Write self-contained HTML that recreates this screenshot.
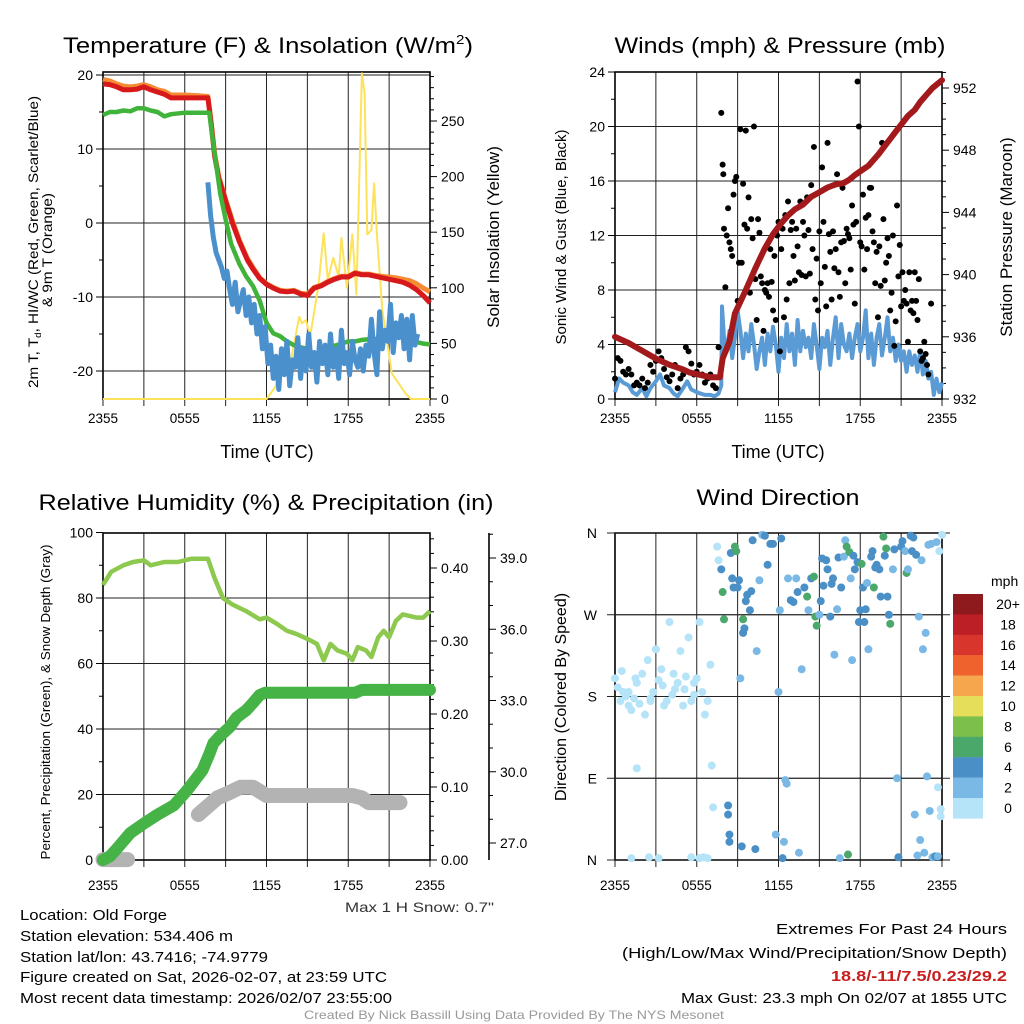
<!DOCTYPE html>
<html><head><meta charset="utf-8"><style>
html,body{margin:0;padding:0;background:#fff;}
svg{display:block;font-family:"Liberation Sans",Arial,sans-serif;}
</style></head><body>
<svg id="fig" xmlns="http://www.w3.org/2000/svg" width="1024" height="1024" viewBox="0 0 1024 1024">
<rect x="0" y="0" width="1024" height="1024" fill="#fff"/>
<g id="p1"></g>
<g id="p2"></g>
<g id="p3"></g>
<g id="p4"></g>

<text x="268" y="53" font-size="22" text-anchor="middle" textLength="410" lengthAdjust="spacingAndGlyphs">Temperature (F) &amp; Insolation (W/m<tspan font-size="13" dy="-9">2</tspan><tspan dy="9">)</tspan></text>
<text x="780" y="53" font-size="22" text-anchor="middle" textLength="331" lengthAdjust="spacingAndGlyphs">Winds (mph) &amp; Pressure (mb)</text>
<text x="266" y="510" font-size="22" text-anchor="middle" textLength="455" lengthAdjust="spacingAndGlyphs">Relative Humidity (%) &amp; Precipitation (in)</text>
<text x="778" y="505" font-size="22" text-anchor="middle" textLength="163" lengthAdjust="spacingAndGlyphs">Wind Direction</text>

<text x="267" y="458" font-size="18" text-anchor="middle">Time (UTC)</text>
<text x="778" y="458" font-size="18" text-anchor="middle">Time (UTC)</text>

<text transform="translate(38,242) rotate(-90)" font-size="14" text-anchor="middle" textLength="292" lengthAdjust="spacingAndGlyphs">2m T, T<tspan font-size="9" dy="3">d</tspan><tspan dy="-3">, HI/WC (Red, Green, Scarlet/Blue)</tspan></text>
<text transform="translate(52,250) rotate(-90)" font-size="14" text-anchor="middle" textLength="114" lengthAdjust="spacingAndGlyphs">&amp; 9m T (Orange)</text>
<text transform="translate(499,237) rotate(-90)" font-size="17" text-anchor="middle">Solar Insolation (Yellow)</text>
<text transform="translate(566,237) rotate(-90)" font-size="15" text-anchor="middle">Sonic Wind &amp; Gust (Blue, Black)</text>
<text transform="translate(1012,237) rotate(-90)" font-size="17" text-anchor="middle">Station Pressure (Maroon)</text>
<text transform="translate(50,702) rotate(-90)" font-size="13" text-anchor="middle" textLength="315" lengthAdjust="spacingAndGlyphs">Percent, Precipitation (Green), &amp; Snow Depth (Gray)</text>
<text transform="translate(566,697) rotate(-90)" font-size="16" text-anchor="middle">Direction (Colored By Speed)</text>

<text x="494" y="912" font-size="14" text-anchor="end" fill="#333" textLength="149" lengthAdjust="spacingAndGlyphs">Max 1 H Snow: 0.7"</text>
<g font-size="15">
<text x="20" y="920" textLength="147" lengthAdjust="spacingAndGlyphs">Location: Old Forge</text>
<text x="20" y="941" textLength="213" lengthAdjust="spacingAndGlyphs">Station elevation: 534.406 m</text>
<text x="20" y="962" textLength="248" lengthAdjust="spacingAndGlyphs">Station lat/lon: 43.7416; -74.9779</text>
<text x="20" y="982" textLength="367" lengthAdjust="spacingAndGlyphs">Figure created on Sat, 2026-02-07, at 23:59 UTC</text>
<text x="20" y="1003" textLength="372" lengthAdjust="spacingAndGlyphs">Most recent data timestamp: 2026/02/07 23:55:00</text>
</g>
<g font-size="15" text-anchor="end">
<text x="1007" y="934" textLength="231" lengthAdjust="spacingAndGlyphs">Extremes For Past 24 Hours</text>
<text x="1007" y="958" textLength="385" lengthAdjust="spacingAndGlyphs">(High/Low/Max Wind/Precipitation/Snow Depth)</text>
<text x="1007" y="981" fill="#c81e1e" font-weight="bold" textLength="176" lengthAdjust="spacingAndGlyphs">18.8/-11/7.5/0.23/29.2</text>
<text x="1007" y="1003" textLength="326" lengthAdjust="spacingAndGlyphs">Max Gust: 23.3 mph On 02/07 at 1855 UTC</text>
</g>
<text x="514" y="1019" font-size="12" fill="#999" text-anchor="middle" textLength="420" lengthAdjust="spacingAndGlyphs">Created By Nick Bassill Using Data Provided By The NYS Mesonet</text>
</svg>
<script>
// ---------- DATA ----------
const xTickLabels = ["2355","0555","1155","1755","2355"];
// Panel 1 temperature (F)
const redH = [0,0.5,1,1.5,2,2.5,3,3.5,4,4.5,5,6,7,7.7,7.9,8.2,8.5,9,9.5,10,10.6,11,11.5,12,12.5,13,13.5,14,14.5,15,15.5,16,16.5,17,17.5,18,18.5,19,19.5,20,20.5,21,21.5,22,22.5,23,23.5,24];
const redT = [18.8,18.7,18.4,18.0,18.0,18.1,18.4,18.0,17.7,17.4,16.9,16.9,16.9,16.9,14,9,6,3,0,-2.5,-5,-6.2,-7.5,-8.3,-8.8,-9.2,-9.3,-9.2,-9.6,-9.8,-8.8,-8.5,-8,-7.6,-7.3,-7.3,-6.8,-7,-7,-7.2,-7.4,-7.6,-7.8,-8,-8.4,-9,-9.8,-10.8];
const orangeT = [19.4,19.2,18.8,18.5,18.4,18.5,18.7,18.4,18.0,17.8,17.3,17.3,17.2,17.1,14.3,9.3,6.3,3.2,0.3,-2.3,-4.8,-6,-7.4,-8.2,-8.7,-9.1,-9.2,-9.1,-9.5,-9.6,-8.7,-8.4,-7.9,-7.5,-7.2,-7.2,-6.7,-6.9,-6.9,-7.1,-7.2,-7.3,-7.4,-7.6,-7.8,-8.2,-8.8,-9.3];
const greenH = [0,0.5,1,1.5,2,2.5,3,3.5,4,4.5,5,6,7,7.8,8.0,8.3,8.6,9.0,9.4,10.0,10.5,11,11.5,12,12.5,13,13.5,14,14.5,15,15.5,16,16.5,17,17.5,18,18.5,19,19.5,20,20.5,21,21.5,22,22.5,23,23.5,24];
const greenT = [14.6,15.0,15.0,15.2,15.1,15.5,15.5,15.2,15.0,14.4,14.7,14.9,14.9,14.9,12,8,4,0.5,-2.8,-5.5,-7.2,-8.5,-10.5,-13.5,-14.9,-15.3,-16,-16.5,-16.8,-17,-17.8,-18.2,-17.5,-16.6,-16.3,-16,-16,-15.8,-15.7,-15.7,-15.3,-15.0,-15.2,-15.4,-15.8,-16.1,-16.3,-16.4];
const wcH = [7.7,7.9,8.1,8.3,8.5,8.7,8.9,9.1,9.3,9.5,9.7,9.9,10.1,10.3,10.5,10.7,10.9,11.1,11.3,11.5,11.7,11.9,12.1,12.3,12.5,12.7,12.9,13.1,13.3,13.5,13.7,13.9,14.1,14.3,14.5,14.7,14.9,15.1,15.3,15.5,15.7,15.9,16.1,16.3,16.5,16.7,16.9,17.1,17.3,17.5,17.7,17.9,18.1,18.3,18.5,18.7,18.9,19.1,19.3,19.5,19.7,19.9,20.1,20.3,20.5,20.7,20.9,21.1,21.3,21.5,21.7,21.9,22.1,22.3,22.5,22.7,22.9,23.1];
const wcT = [5.5,1,-2,-4,-5,-6,-7.5,-6.5,-9,-11,-8,-12,-10.5,-9,-12.5,-10,-13.5,-11,-15,-12.5,-17,-14,-19,-16.5,-21,-18,-22.5,-17,-20.5,-16,-22,-18.5,-19.5,-15.5,-21,-17,-20,-15,-19.5,-17.5,-21.5,-16,-19,-16.5,-20.5,-15,-19.5,-17,-21,-14.5,-19,-17.5,-20.5,-16,-18.5,-19.5,-17,-20,-16.5,-18,-13,-17.5,-20.5,-12,-17,-14.5,-16,-11,-17.5,-13.5,-15.5,-12.5,-17,-13,-18.5,-12.5,-16.5,-15];
const solarH = [0,12.0,12.6,13.2,13.8,14.4,14.6,14.9,15.2,15.8,16.2,16.5,16.9,17.3,17.5,17.9,18.3,18.6,19.0,19.2,19.4,19.7,19.9,20.1,20.5,21.2,22.2,22.6,24];
const solarV = [0,0,10,26,35,74,68,71,56,101,149,107,127,110,145,100,148,94,293,275,148,152,194,148,80,23,5,0,0];
// Panel 2 winds (mph) & pressure (mb)
const windH = [0,0.3,0.6,1,1.3,1.6,2,2.3,2.6,3,3.3,3.6,4,4.3,4.6,5,5.3,5.6,6,6.3,6.6,7,7.3,7.6,7.8,7.85,8.0,8.2,8.4,8.6,8.8,9.0,9.2,9.4,9.6,9.8,10.0,10.2,10.4,10.6,10.8,11.0,11.2,11.4,11.6,11.8,12.0,12.2,12.4,12.6,12.8,13.0,13.2,13.4,13.6,13.8,14.0,14.2,14.4,14.6,14.8,15.0,15.2,15.4,15.6,15.8,16.0,16.2,16.4,16.6,16.8,17.0,17.2,17.4,17.6,17.8,18.0,18.2,18.4,18.6,18.8,19.0,19.2,19.4,19.6,19.8,20.0,20.2,20.4,20.6,20.8,21.0,21.2,21.4,21.6,21.8,22.0,22.2,22.4,22.6,22.8,23.0,23.2,23.4,23.6,23.8,24];
const windV = [0.5,1.5,1.2,1,0.5,0.3,0.8,0.2,0.8,1.3,1.8,1,0.8,0.4,0.2,0.8,1.3,0.7,0.5,0.4,0.3,0.3,0.2,0.4,1.0,6.8,4.5,3.5,5,3,4.5,6.5,5,3,4.8,3.5,5.5,4,2.2,3.5,4.5,2.5,4.8,3.5,5.3,4,2,4.5,3,5.5,3.5,4.8,2.5,5.8,3.5,5,3.8,4.5,3,5.5,4,2.2,4.5,3.8,5,2.5,4.5,6,3,5.5,4,3.5,4.8,3,4.5,5.5,3.5,4.5,6.5,3,4.8,2.5,4.5,5.5,3.2,4.5,6,3.5,4.5,2.8,4,2.8,3.5,2,3.5,2.5,3.2,2,3.5,1.8,2.8,1.5,2,0.3,1.5,0.5,1.2];
const gustH = [0,0.2,0.4,0.6,0.8,1.0,1.2,1.4,1.6,1.8,2.0,2.2,2.4,2.6,2.8,3.0,3.2,3.4,3.6,3.8,4.0,4.2,4.4,4.6,4.8,5.0,5.2,5.4,5.6,5.8,6.0,6.2,6.4,6.6,6.8,7.0,7.2,7.4,7.6,7.8,7.9,7.95,8.0,8.1,8.2,8.3,8.4,8.5,8.6,8.7,8.8,8.9,9.0,9.1,9.2,9.3,9.4,9.5,9.6,9.7,9.8,9.9,10.0,10.1,10.2,10.3,10.4,10.5,10.6,10.7,10.8,10.9,11.0,11.1,11.2,11.3,11.4,11.5,11.6,11.7,11.8,11.9,12.0,12.1,12.2,12.3,12.4,12.5,12.6,12.7,12.8,12.9,13.0,13.1,13.2,13.3,13.4,13.5,13.6,13.7,13.8,13.9,14.0,14.1,14.2,14.3,14.4,14.5,14.6,14.7,14.8,14.9,15.0,15.1,15.2,15.3,15.4,15.5,15.6,15.7,15.8,15.9,16.0,16.1,16.2,16.3,16.4,16.5,16.6,16.7,16.8,16.9,17.0,17.1,17.2,17.3,17.4,17.5,17.6,17.7,17.8,17.9,18.0,18.1,18.2,18.3,18.4,18.5,18.6,18.7,18.8,18.9,19.0,19.1,19.2,19.3,19.4,19.5,19.6,19.7,19.8,19.9,20.0,20.1,20.2,20.3,20.4,20.5,20.6,20.7,20.8,20.9,21.0,21.1,21.2,21.3,21.4,21.5,21.6,21.7,21.8,21.9,22.0,22.1,22.2,22.3,22.4,22.5,22.6,22.7,22.8,22.9,23.0,23.2];
const gustV = [1.5,3,2.8,2,1.8,2.2,1.8,1,1.2,1,1.5,0.8,1.2,2.5,2,2.8,3.5,3,2.2,1.6,1.3,1.8,2.5,0.8,1.5,1.8,3.8,3.5,2.6,1.8,2,2.5,1.8,1.2,1.5,1.8,1,0.8,3.8,21,17.2,16.5,12.5,8.2,12,14,11.5,11,10.5,15,16,16.3,7.2,10,19.8,10,15.8,12.8,19.7,12.5,14.8,7.8,13.2,11.8,20,8.8,5.8,13.2,12.2,9,8.5,5,8,7.8,8.5,7.5,11,8.6,6.5,10.5,5.8,12,13,3.5,11,12.5,6,13.5,7.3,14.5,8.5,12.4,13,10.5,8.7,12.5,11.2,9.3,14.5,9.1,13,12,9,14.8,12.4,9.2,15.7,11,18.5,7.3,10.3,6.5,12.3,8.5,17,13,9.7,6.8,18.8,12.1,10.8,7.3,12.3,9.6,11,16.5,9.3,7.5,11.5,15.5,11.6,8.5,12.5,12.1,11.8,9.5,14.2,12.8,7,13,23.3,20,11.5,11.2,15,9.5,13.3,11,13.5,15.5,15.5,12.3,11.5,8.5,10.8,6,11.2,8.3,18.8,13.2,8.7,10,11.8,10.5,6.5,7.8,12,3.9,5.7,14.2,9,11.3,6.8,9.3,7.2,8,7,4.2,9.3,6.5,7.2,6.3,9.3,7.2,5.8,8.8,3.5,2.8,3,4.2,3.3,2.5,1.8,7];
const presH = [0,1,2,3,4,5,5.5,6.5,7.0,7.7,7.9,8.4,8.8,9.6,10.3,11,11.6,12.2,12.7,13.2,13.8,14.4,15,15.6,16.2,16.8,17.2,17.6,18.1,18.6,19.3,20.0,20.7,21.5,22.0,22.4,22.9,23.3,24];
const presV = [936.0,935.6,935.1,934.6,934.2,933.9,933.7,933.5,933.4,933.4,934.6,935.7,937.5,939.0,940.4,941.7,942.6,943.3,943.8,944.2,944.5,945.0,945.3,945.6,945.8,945.9,946.1,946.4,946.7,947.0,947.7,948.5,949.3,950.2,950.6,951.1,951.6,952.0,952.5];
// Panel 3 humidity (%), precipitation (in), snow depth (in)
const rhH = [0,0.6,1.5,2.2,3,3.5,4.5,5.5,6.5,7.7,8.2,8.8,9.5,10.5,11.5,12,12.8,13.5,14.2,15,15.7,16.2,16.7,17.2,17.9,18.3,18.7,19.3,19.7,20.2,20.6,21,21.5,22,23,23.5,24];
const rhV = [84,88,90,91,91.5,90,91,91,92,92,86,80,78,76,73.5,74,72,70,69,67.5,66,61,66,64,63,61,65,64,62,68,70,68,73,75,74,74,76];
const precipH = [0,0.5,1,2,3,4,5.2,6.2,7.3,7.8,8.1,8.6,9.3,9.8,10.5,11,11.5,11.9,14,16,18.5,19,21,24];
const precipV = [0,0.005,0.015,0.037,0.05,0.062,0.075,0.096,0.123,0.145,0.16,0.17,0.182,0.195,0.205,0.215,0.226,0.229,0.229,0.229,0.229,0.233,0.233,0.233];
const snowH1 = [0,0.6,1.2,1.8];
const snowV1 = [26.3,26.3,26.3,26.3];
const snowH2 = [7.0,7.8,8.4,9.2,10.1,11,12,13,14,15,16,17,18.3,19.0,19.5,20.5,21.8];
const snowV2 = [28.2,28.6,28.9,29.1,29.35,29.35,29.0,29.0,29.0,29.0,29.0,29.0,29.0,28.9,28.7,28.7,28.7];
// Panel 4 wind direction (deg) & speed (mph)
const dirH = [0.0,0.2,0.4,0.6,0.8,1.0,1.2,1.4,1.6,1.8,2.0,2.2,2.4,2.6,2.8,3.0,3.2,3.4,3.6,3.8,4.0,4.2,4.4,4.6,4.8,5.0,5.2,5.4,5.6,5.8,6.0,6.2,6.4,6.6,6.8,7.0,0.5,1.0,1.5,2.6,3.5,4.3,5.1,5.8,1.6,7.1,7.2,1.2,2.5,3.2,5.6,6.2,6.5,6.8,
7.5,7.6,7.8,7.9,8.0,8.3,8.3,8.4,8.4,8.5,8.6,8.7,8.8,8.9,9.0,9.1,9.2,9.3,9.4,9.4,9.5,9.6,9.7,9.9,10.0,10.1,10.3,10.4,10.6,10.8,11.0,11.2,11.4,11.6,11.8,12.0,12.1,12.2,12.3,12.4,12.5,12.6,12.7,12.9,13.1,13.3,13.4,13.5,13.7,13.9,14.1,14.2,14.4,14.6,14.7,14.8,15.0,15.1,15.2,15.3,15.5,15.6,15.8,15.9,16.0,16.1,16.3,16.4,16.5,16.6,16.8,16.9,17.0,17.1,17.2,17.3,17.4,17.5,17.6,17.8,17.9,18.0,18.1,18.2,18.3,18.4,18.5,18.6,18.8,18.9,19.0,19.1,19.2,19.4,19.5,19.7,19.8,19.9,20.0,20.1,20.2,20.4,20.5,20.7,20.8,21.0,21.1,21.3,21.4,21.5,21.7,21.8,21.9,22.0,22.1,22.2,22.3,22.4,22.5,22.6,22.7,22.8,22.9,23.0,23.1,23.2,23.3,23.5,23.6,23.7,23.8,23.9,24.0,23.7,23.9];
const dirV = [200,190,175,185,180,170,165,178,195,172,205,160,220,175,185,232,198,210,170,175,262,182,188,195,230,170,202,245,175,195,200,262,185,160,175,215,208,185,200,178,192,205,188,182,101,104,58,2,3,2,3,2,3,2,
345,330,320,295,265,60,50,20,28,338,310,300,345,340,300,308,200,15,265,250,255,285,292,275,296,352,12,230,308,358,357,325,348,348,28,185,275,354,2,20,88,84,310,286,284,310,295,8,210,300,290,275,310,312,268,258,270,285,332,302,330,320,268,304,310,226,276,333,2,300,334,352,345,6,339,310,220,335,320,328,262,275,326,300,262,276,305,232,334,340,300,322,325,320,290,356,335,343,290,270,260,320,342,90,3,345,351,340,316,320,357,340,355,50,336,5,268,22,330,232,8,250,92,347,54,348,3,4,350,4,340,56,358,80,48];
const dirS = [1,1,1,1,1,1,1,1,1,1,1,1,1,1,1,1,1,1,1,1,1,1,1,1,1,1,1,1,1,1,1,1,1,1,1,1,1,1,1,1,1,1,1,1,1,1,1,1,1,1,1,1,1,1,
1,1,5,7,7,4,4,4,4,5,4,5,7,6,4,4,3,4,7,5,4,4,4,4,4,4,4,3,3,3,4,5,4,5,3,3,3,4,4,3,3,2,3,4,4,3,5,3,3,4,7,3,4,6,6,6,3,5,5,4,5,4,4,4,4,3,3,4,3,4,2,3,6,7,6,2,2,4,4,5,4,4,6,4,5,4,2,2,4,5,6,4,4,4,4,7,4,7,4,5,7,2,5,2,5,4,4,3,7,3,4,4,4,3,4,3,3,3,3,3,3,3,3,2,2,2,3,4,2,3,1,1,1,1,1];
const cbLabels = ["20+","18","16","14","12","10","8","6","4","2","0"];
const cbColors = ["#8f1a1d","#bd1f26","#d8362c","#ef612d","#f6a64c","#e5de5a","#7cbf4b","#4ba86b","#4a8fc6","#7ab9e6","#b5e3f8"];

// ---------- HELPERS ----------
const NS = "http://www.w3.org/2000/svg";
function mk(tag, attrs, parent){ const e=document.createElementNS(NS,tag); for(const k in attrs) e.setAttribute(k,attrs[k]); parent.appendChild(e); return e; }
function pathD(hs, vs, fx, fy){ return hs.map((h,i)=>(i?"L":"M")+fx(h).toFixed(1)+","+fy(vs[i]).toFixed(1)).join(""); }

const p1=document.getElementById('p1'), p2=document.getElementById('p2'), p3=document.getElementById('p3'), p4=document.getElementById('p4');

function frame(g, x0, x1, y0, y1, hlines, tickLabY){
  for(let i=0;i<=8;i++){
    const x = x0 + i*(x1-x0)/8;
    const gl = mk('line',{x1:x,x2:x,y1:y0,y2:y1+7,stroke:'#222','stroke-width':1},g);
    
    
    if(i%2===0){
      const t = mk('text',{x:x,y:tickLabY,'font-size':13.5,'text-anchor':'middle'},g);
      
      
      t.textContent = xTickLabels[i/2];
    }
  }
  hlines.forEach(y=>{
    const hl = mk('line',{x1:x0,x2:x1,y1:y,y2:y,stroke:'#222','stroke-width':1},g);
    
    
  });
  const r = mk('rect',{x:x0,y:y0,width:x1-x0,height:y1-y0,fill:'none',stroke:'#000','stroke-width':1.6},g);
  
  
}
function yAxis(g, x, vals, fy, labels, side, minorVals){
  vals.forEach((v,i)=>{
    const y=fy(v);
    const tk = mk('line',{x1:x,x2:side<0?x-7:x+7,y1:y,y2:y,stroke:'#000','stroke-width':1},g);
    
    
    const t = mk('text',{x:side<0?x-10:x+11,y:y+5,'font-size':14,'text-anchor':side<0?'end':'start'},g);
    
    
    t.textContent = labels[i];
  });
  (minorVals||[]).forEach(v=>{
    const y=fy(v);
    const mt = mk('line',{x1:x,x2:side<0?x-4:x+4,y1:y,y2:y,stroke:'#000','stroke-width':1},g);
    
    
  });
}

// ---------- PANEL 1 ----------
const X1 = h=>103+h*13.625;
const TY = t=>223-t*7.4;
const SY = s=>399-s*1.112;
frame(p1,103,430,72,399,[TY(20),TY(10),TY(0),TY(-10),TY(-20)],423);
yAxis(p1,103,[20,10,0,-10,-20],TY,["20","10","0","-10","-20"],-1,[15,5,-5,-15]);
yAxis(p1,430,[0,50,100,150,200,250],SY,["0","50","100","150","200","250"],1,[10,20,30,40,60,70,80,90,110,120,130,140,160,170,180,190,210,220,230,240,260,270,280,290]);
let e;
e = mk('path',{d:pathD(solarH,solarV,X1,SY),fill:'none',stroke:'#fde25a','stroke-width':2,'stroke-linejoin':'round'},p1);
 
e = mk('path',{d:pathD(orangeT.map((v,i)=>redH[i]),orangeT,X1,TY),fill:'none',stroke:'#f58b33','stroke-width':5,'stroke-linejoin':'round'},p1);
 
e = mk('path',{d:pathD(redH,redT,X1,TY),fill:'none',stroke:'#d7191c','stroke-width':5,'stroke-linejoin':'round'},p1);
 
e = mk('path',{d:pathD(greenH,greenT,X1,TY),fill:'none',stroke:'#3fb33a','stroke-width':4.5,'stroke-linejoin':'round'},p1);
 
e = mk('path',{d:pathD(wcH,wcT,X1,TY),fill:'none',stroke:'#4a90cd','stroke-width':5,'stroke-linejoin':'round'},p1);
 

// ---------- PANEL 2 ----------
const X2 = h=>615+h*13.625;
const WY = v=>399-v*13.625;
const PY = p=>399-(p-932)*15.55;
frame(p2,615,942,72,399,[WY(4),WY(8),WY(12),WY(16),WY(20),WY(24)],423);
yAxis(p2,615,[0,4,8,12,16,20,24],WY,["0","4","8","12","16","20","24"],-1,[2,6,10,14,18,22]);
yAxis(p2,942,[932,936,940,944,948,952],PY,["932","936","940","944","948","952"],1,[933,934,935,937,938,939,941,942,943,945,946,947,949,950,951,953]);
e = mk('path',{d:pathD(windH,windV,X2,WY),fill:'none',stroke:'#5a9bd5','stroke-width':4,'stroke-linejoin':'round'},p2);
 
gustH.forEach((h,i)=>{
  const c = mk('circle',{cx:X2(h),cy:WY(gustV[i]),r:3,fill:'#000'},p2);
  
  
});
e = mk('path',{d:pathD(presH,presV,X2,PY),fill:'none',stroke:'#a31a1c','stroke-width':6,'stroke-linejoin':'round','stroke-linecap':'round'},p2);
 

// ---------- PANEL 3 ----------
const X3 = h=>103+h*13.625;
const RY = r=>860-r*3.275;
const PRY = p=>860-p*730;
const SNY = s=>843-(s-27)*23.75;
frame(p3,103,430,533,860,[RY(20),RY(40),RY(60),RY(80)],890);
yAxis(p3,103,[0,20,40,60,80,100],RY,["0","20","40","60","80","100"],-1,[10,30,50,70,90]);
yAxis(p3,430,[0,0.1,0.2,0.3,0.4],PRY,["0.00","0.10","0.20","0.30","0.40"],1,[0.02,0.04,0.06,0.08,0.12,0.14,0.16,0.18,0.22,0.24,0.26,0.28,0.32,0.34,0.36,0.38,0.42,0.44]);
e = mk('line',{x1:489,x2:489,y1:533,y2:860,stroke:'#000','stroke-width':1.6},p3);
 
yAxis(p3,489,[27,30,33,36,39],SNY,["27.0","30.0","33.0","36.0","39.0"],1,[28,29,31,32,34,35,37,38,40]);
e = mk('path',{d:pathD(snowH1,snowV1,X3,SNY),fill:'none',stroke:'#b3b3b3','stroke-width':15,'stroke-linecap':'round','stroke-linejoin':'round'},p3);
 
e = mk('path',{d:pathD(snowH2,snowV2,X3,SNY),fill:'none',stroke:'#b3b3b3','stroke-width':15,'stroke-linecap':'round','stroke-linejoin':'round'},p3);
 
e = mk('path',{d:pathD(precipH,precipV,X3,PRY),fill:'none',stroke:'#45b346','stroke-width':12,'stroke-linecap':'round','stroke-linejoin':'round'},p3);
 
e = mk('path',{d:pathD(rhH,rhV,X3,RY),fill:'none',stroke:'#8dc84f','stroke-width':4.5,'stroke-linejoin':'round'},p3);
 

// ---------- PANEL 4 ----------
const X4 = h=>615+h*13.625;
const DY = d=>860-d*0.9083;
frame(p4,615,942,533,860,[DY(90),DY(180),DY(270)],890);
[0,90,180,270,360].forEach(d=>{
  const hl = mk('line',{x1:607,x2:950,y1:DY(d),y2:DY(d),stroke:'#222','stroke-width':1},p4);
  
  
});
["N","E","S","W","N"].forEach((l,i)=>{
  const t = mk('text',{x:597,y:DY(i*90)+5,'font-size':14,'text-anchor':'end'},p4);
  
  
  t.textContent = l;
});
function spdColor(s){ const idx = Math.min(10, Math.floor(s/2)); return cbColors[10-idx]; }
dirH.forEach((h,i)=>{
  const c = mk('circle',{cx:X4(h),cy:DY(dirV[i]),r:4,fill:spdColor(dirS[i])},p4);
  
  
});
// colorbar
const cbTitle = mk('text',{x:991,y:586,'font-size':14,'text-anchor':'start'},p4);


cbTitle.textContent = 'mph';
cbColors.forEach((col,i)=>{
  const r = mk('rect',{x:953,y:594+i*20.4,width:30,height:20.6,fill:col},p4);
  
  
  const t = mk('text',{x:1008,y:594+i*20.4+15,'font-size':14,'text-anchor':'middle'},p4);
  
  
  t.textContent = cbLabels[i];
});
</script>
</body></html>
